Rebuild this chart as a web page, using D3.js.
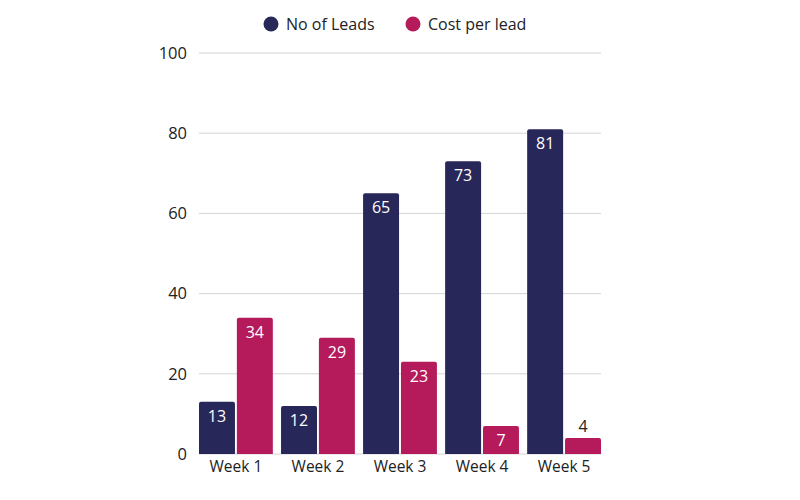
<!DOCTYPE html>
<html>
<head>
<meta charset="utf-8">
<script src="https://cdn.jsdelivr.net/npm/d3@7"></script>
<style>
  body { margin: 0; background: #fff; }
  svg text { font-family: "Open Sans", Lato, sans-serif; }
</style>
</head>
<body>
<svg></svg>
<script>
const weeks = ["Week 1", "Week 2", "Week 3", "Week 4", "Week 5"];
const series = ["No of Leads", "Cost per lead"];
const leads = [13, 12, 65, 73, 81];
const costPerLead = [34, 29, 23, 7, 4];
const yTicks = [0, 20, 40, 60, 80, 100];

const colors = ["#27275a", "#b51a5a"];

function makeChart() {
    let svgWidth = 800;
    let svgHeight = 500;
    let left = 199, right = 601, top = 53, bottom = 454;

    let svg = d3.select('svg')
        .attr("width", svgWidth)
        .attr("height", svgHeight);

    let x = d3.scaleBand()
        .domain(weeks)
        .range([left, right])
        .paddingInner(0.1)
        .paddingOuter(0);

    let xInner = d3.scaleBand()
        .domain(series)
        .range([0, x.bandwidth()])
        .paddingInner(0.05);

    let y = d3.scaleLinear()
        .domain([0, 100])
        .range([bottom, top]);

    // gridlines
    svg.append('g').selectAll('line')
        .data(yTicks).enter().append('line')
        .attr('x1', left).attr('x2', right)
        .attr('y1', d => y(d)).attr('y2', d => y(d))
        .attr('stroke', '#d4d4d4')
        .attr('stroke-width', 1);

    // y axis labels
    let axsLeft = d3.axisLeft(y).tickValues(yTicks).tickSize(0).tickPadding(12);
    let gy = svg.append('g').call(axsLeft)
        .attr('transform', 'translate(' + left + ',0)');
    gy.select('.domain').remove();
    gy.selectAll('text').attr('font-size', 16.5).attr('fill', '#222')
        .style('font-family', '"Open Sans", Lato, sans-serif');

    // x axis labels
    let axsBottom = d3.axisBottom(x).tickSize(0).tickPadding(7);
    let gx = svg.append('g').call(axsBottom)
        .attr('transform', 'translate(0,' + bottom + ')');
    gx.select('.domain').remove();
    gx.selectAll('text').attr('font-size', 15.5).attr('fill', '#222')
        .style('font-family', '"Open Sans", Lato, sans-serif');

    let rows = weeks.map((w, i) => ({ week: w, values: [leads[i], costPerLead[i]] }));

    let groups = svg.append('g').selectAll('g')
        .data(rows).enter().append('g')
        .attr('transform', d => 'translate(' + x(d.week) + ',0)');

    let cells = groups.selectAll('g')
        .data(d => d.values.map((v, j) => ({ key: series[j], value: v, idx: j })))
        .enter().append('g');

    // bars with slightly rounded top corners
    cells.append('path')
        .attr('fill', d => colors[d.idx])
        .attr('d', d => {
            let x0 = xInner(d.key), w = xInner.bandwidth();
            let y0 = y(d.value), y1 = y(0), r = 2;
            return 'M' + x0 + ',' + y1 +
                'V' + (y0 + r) + 'Q' + x0 + ',' + y0 + ' ' + (x0 + r) + ',' + y0 +
                'H' + (x0 + w - r) + 'Q' + (x0 + w) + ',' + y0 + ' ' + (x0 + w) + ',' + (y0 + r) +
                'V' + y1 + 'Z';
        });

    cells.append('text')
        .attr('x', d => xInner(d.key) + xInner.bandwidth() / 2)
        .attr('y', d => (y(0) - y(d.value)) > 24 ? y(d.value) + 20 : y(d.value) - 6)
        .attr('text-anchor', 'middle')
        .attr('font-size', 16)
        .attr('fill', d => (y(0) - y(d.value)) > 24 ? '#fff' : '#222')
        .text(d => d.value);

    // legend
    let legend = svg.append('g').selectAll('g')
        .data(series).enter().append('g')
        .attr('transform', (d, i) => 'translate(' + [271, 413][i] + ',24)');
    legend.append('circle')
        .attr('r', 7.5)
        .attr('fill', (d, i) => colors[i]);
    legend.append('text')
        .attr('x', 15)
        .attr('dy', '0.35em')
        .attr('font-size', 16)
        .attr('fill', '#222')
        .text(d => d);
}

makeChart();
</script>
</body>
</html>
